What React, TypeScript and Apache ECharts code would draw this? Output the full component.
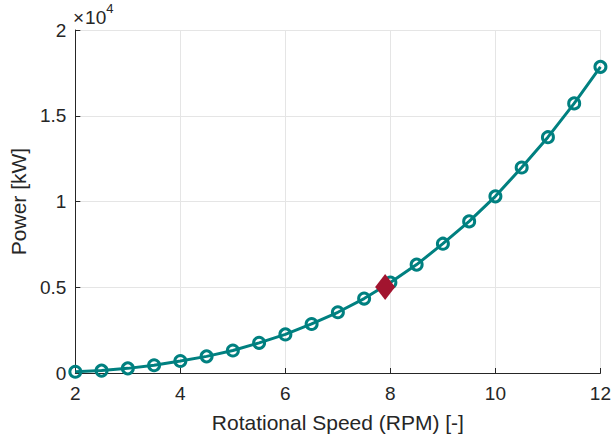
import React, { useEffect, useRef } from "react";
import * as echarts from "echarts";

const speeds = [2, 2.5, 3, 3.5, 4, 4.5, 5, 5.5, 6, 6.5, 7, 7.5, 8, 8.5, 9, 9.5, 10, 10.5, 11, 11.5, 12];
const power = [70, 140, 270, 450, 700, 970, 1310, 1760, 2250, 2860, 3540, 4340, 5280, 6320, 7540, 8840, 10300, 11980, 13750, 15720, 17850];
const markerPoint = [7.9, 5020];
const xTicks = [2, 4, 6, 8, 10, 12];
const yTicks = [0, 5000, 10000, 15000, 20000];

const AX = "#262626";
const FONT = "'Liberation Sans', Arial, Helvetica, sans-serif";

export default function App() {
  const ref = useRef<HTMLDivElement>(null);
  useEffect(() => {
    if (!ref.current) return;
    const chart = echarts.init(ref.current, undefined, { renderer: "svg" });
    chart.setOption({
      animation: false,
      backgroundColor: "#ffffff",
      grid: { left: 72.5, right: 11, top: 30, bottom: 65, containLabel: false },
      xAxis: {
        type: "value",
        min: xTicks[0],
        max: xTicks[xTicks.length - 1],
        interval: 2,
        name: "Rotational Speed (RPM) [-]",
        nameLocation: "middle",
        nameGap: 39,
        nameTextStyle: { color: AX, fontSize: 21, fontFamily: FONT },
        axisLine: { show: true, lineStyle: { color: AX, width: 1 } },
        axisTick: { show: true, inside: true, length: 5, lineStyle: { color: AX } },
        axisLabel: { color: AX, fontSize: 19, fontFamily: FONT, margin: 11 },
        splitLine: { show: true, lineStyle: { color: "#e5e5e5", width: 1 } },
      },
      yAxis: {
        type: "value",
        min: yTicks[0],
        max: yTicks[yTicks.length - 1],
        interval: 5000,
        name: "Power [kW]",
        nameLocation: "middle",
        nameGap: 46,
        nameTextStyle: { color: AX, fontSize: 21, fontFamily: FONT },
        axisLine: { show: true, lineStyle: { color: AX, width: 1 } },
        axisTick: { show: true, inside: true, length: 5, lineStyle: { color: AX } },
        axisLabel: {
          color: AX,
          fontSize: 19,
          fontFamily: FONT,
          margin: 9,
          formatter: (v: number) => String(v / 10000),
        },
        splitLine: { show: true, lineStyle: { color: "#e5e5e5", width: 1 } },
      },
      graphic: [
        {
          type: "text",
          left: 73,
          top: 2,
          style: {
            text: "{x|×}{b|10}{s|4}",
            rich: {
              x: { fontSize: 19, fontFamily: FONT, fill: AX, padding: [6, 1, 0, 0] },
              b: { fontSize: 19, fontFamily: FONT, fill: AX, padding: [6, 0, 0, 0] },
              s: { fontSize: 13, fontFamily: FONT, fill: AX, verticalAlign: "top", padding: [0, 0, 11, 0] },
            },
          },
        },
      ],
      series: [
        {
          type: "line",
          data: speeds.map((s, i) => [s, power[i]]),
          symbol: "circle",
          symbolSize: 11,
          lineStyle: { color: "#008080", width: 3 },
          itemStyle: { color: "rgba(0,0,0,0)", borderColor: "#008080", borderWidth: 3 },
          z: 2,
        },
        {
          type: "scatter",
          data: [markerPoint],
          symbol: "diamond",
          symbolSize: [20, 26],
          itemStyle: { color: "#A2142F", opacity: 1 },
          z: 3,
        },
      ],
    });
    return () => chart.dispose();
  }, []);
  return <div ref={ref} style={{ width: 614, height: 438, position: "absolute", left: 0, top: 0 }} />;
}
